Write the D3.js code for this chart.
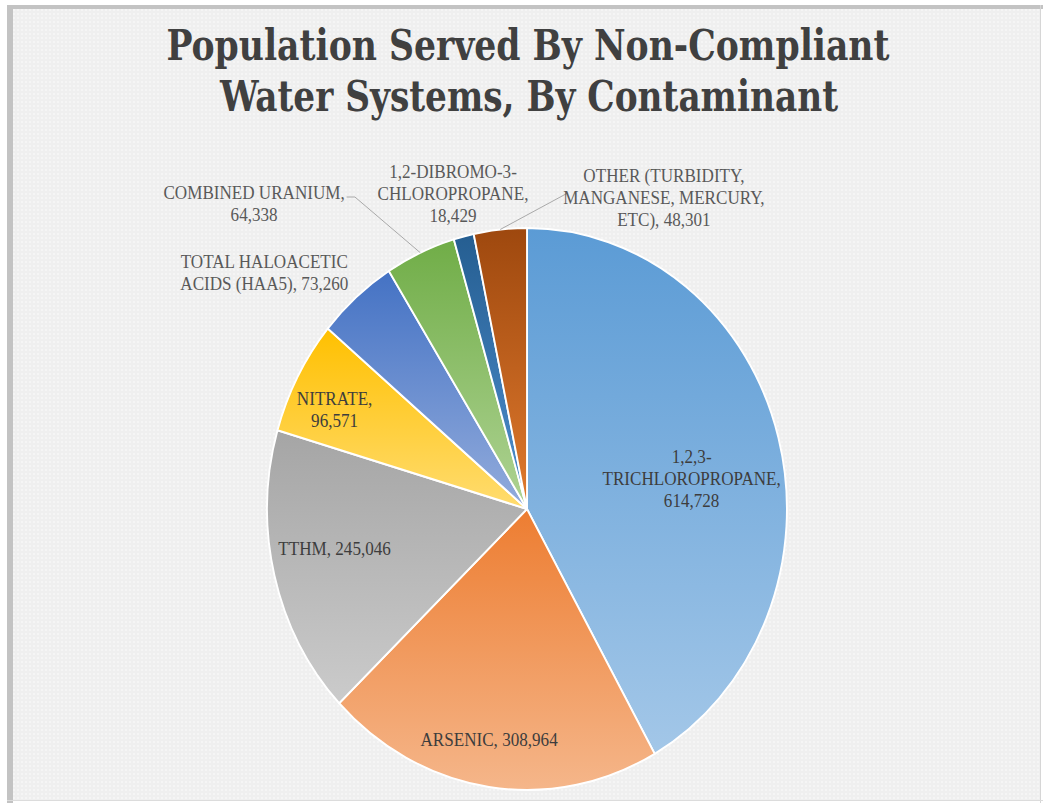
<!DOCTYPE html>
<html lang="en">
<head>
  <meta charset="UTF-8">
  <script src="https://cdn.jsdelivr.net/npm/d3@7"></script>
  <title>Population Served By Non-Compliant Water Systems</title>
  <style>
    body { margin: 0; background: #fff; }
    svg text { font-family: "Liberation Serif", "DejaVu Serif", serif; }
    svg text.title { font-family: "DejaVu Serif", serif; font-stretch: condensed; }
  </style>
</head>
<body>
  <svg class="chart" width="1045" height="803"></svg>
  <script>
    // data
    const categories = ["1,2,3-TRICHLOROPROPANE", "ARSENIC", "TTHM", "NITRATE",
      "TOTAL HALOACETIC ACIDS (HAA5)", "COMBINED URANIUM",
      "1,2-DIBROMO-3-CHLOROPROPANE", "OTHER (TURBIDITY, MANGANESE, MERCURY, ETC)"]
    const population = [614728, 308964, 245046, 96571, 73260, 64338, 18429, 48301]
    // how each data label is broken into lines ({v} = value)
    const labelLines = [
      ["1,2,3-", "TRICHLOROPROPANE,", "{v}"],
      ["ARSENIC, {v}"],
      ["TTHM, {v}"],
      ["NITRATE,", "{v}"],
      ["TOTAL HALOACETIC", "ACIDS (HAA5), {v}"],
      ["COMBINED URANIUM,", "{v}"],
      ["1,2-DIBROMO-3-", "CHLOROPROPANE,", "{v}"],
      ["OTHER (TURBIDITY,", "MANGANESE, MERCURY,", "ETC), {v}"]
    ]

    // styles
    const topColors = ["#5b9bd5", "#ed7d31", "#a5a5a5", "#ffc000", "#4472c4", "#70ad47", "#255e91", "#9e480e"]
    const bottomColors = ["#a3c7e8", "#f5b68a", "#cbcbcb", "#ffdc70", "#93acdc", "#afd394", "#4f8fcf", "#e07a2e"]
    const inside = [true, true, true, true, false, false, false, false]
    // label block anchors, relative to the pie centre (unsquashed units)
    const labelPos = [[178, -46], [-41, 237], [-208, 46], [-208, -104], [-284, -241], [-295, -310], [-80, -331], [148, -327]]
    // leader lines start near the label (only where Excel drew them)
    const leaderFrom = {5: [[-195, -312], [-186, -312]], 7: [[44, -316]]}

    const svg = d3.select(".chart")
    const cx = 527, cy = 509, radius = 281, sx = 0.925

    // background / frame
    const defs = svg.append("defs")
    const pat = defs.append("pattern")
      .attr("id", "dots").attr("width", 4).attr("height", 4)
      .attr("patternUnits", "userSpaceOnUse")
    pat.append("rect").attr("width", 4).attr("height", 4).attr("fill", "#efefef")
    pat.append("circle").attr("cx", 2).attr("cy", 2).attr("r", 1).attr("fill", "#f7f7f7")

    svg.append("rect").attr("x", 10).attr("y", 7).attr("width", 1031).attr("height", 794).attr("fill", "url(#dots)")
    svg.append("rect").attr("x", 7).attr("y", 5).attr("width", 6).attr("height", 798).attr("fill", "#c3c3c3")
    svg.append("rect").attr("x", 7).attr("y", 5).attr("width", 1036).attr("height", 4).attr("fill", "#c3c3c3")
    svg.append("rect").attr("x", 1040).attr("y", 5).attr("width", 1).attr("height", 798).attr("fill", "#d6d6d6")
    svg.append("rect").attr("x", 7).attr("y", 800).attr("width", 1036).attr("height", 1).attr("fill", "#dcdcdc")

    // title
    const title = svg.append("g")
      .attr("fill", "#404040")
      .attr("font-weight", "bold")
      .attr("font-size", 42)
      .attr("text-anchor", "middle")
    title.append("text").attr("class", "title").attr("x", 528).attr("y", 60)
      .attr("textLength", 723).attr("lengthAdjust", "spacingAndGlyphs")
      .text("Population Served By Non-Compliant")
    title.append("text").attr("class", "title").attr("x", 529).attr("y", 111)
      .attr("textLength", 618).attr("lengthAdjust", "spacingAndGlyphs")
      .text("Water Systems, By Contaminant")

    // gradients, one per slice
    population.forEach((v, i) => {
      const lg = defs.append("linearGradient")
        .attr("id", "grad" + i)
        .attr("x1", 0).attr("y1", 0).attr("x2", 0).attr("y2", 1)
      lg.append("stop").attr("offset", "0%").attr("stop-color", topColors[i])
      lg.append("stop").attr("offset", "100%").attr("stop-color", bottomColors[i])
    })

    const pie = d3.pie().sort(null).value(d => d)
    const arcs = pie(population)
    const arc = d3.arc().innerRadius(0).outerRadius(radius)
    const edge = d3.arc().innerRadius(radius).outerRadius(radius)

    // picture is squashed horizontally, so the pie is an ellipse
    const g = svg.append("g")
      .attr("transform", `translate(${cx},${cy}) scale(${sx},1)`)

    g.append("g")
      .selectAll("path")
      .data(arcs)
      .join("path")
      .attr("d", arc)
      .attr("fill", (d, i) => `url(#grad${i})`)
      .attr("stroke", "#fff")
      .attr("stroke-width", 2)
      .attr("stroke-linejoin", "round")

    // leader lines
    g.append("g")
      .attr("fill", "none")
      .attr("stroke", "#a6a6a6")
      .attr("stroke-width", 1)
      .selectAll("path")
      .data(Object.keys(leaderFrom))
      .join("path")
      .attr("d", k => {
        const pts = leaderFrom[k].concat([edge.centroid(arcs[k])])
        return d3.line()(pts)
      })

    // data labels
    const fmt = d3.format(",")
    const labels = g.append("g")
      .attr("font-size", 18.5)
      .attr("text-anchor", "middle")
      .selectAll("text")
      .data(arcs)
      .join("text")
      .attr("fill", (d, i) => inside[i] ? "#3d3d3d" : "#595959")
      .attr("x", (d, i) => labelPos[i][0])
      .attr("y", (d, i) => labelPos[i][1])

    labels.selectAll("tspan")
      .data((d, i) => labelLines[i].map(s => s.replace("{v}", fmt(d.value))).map(s => ({s, x: labelPos[i][0]})))
      .join("tspan")
      .attr("x", t => t.x)
      .attr("dy", (t, j) => j === 0 ? 0 : 22)
      .text(t => t.s)
  </script>
</body>
</html>
